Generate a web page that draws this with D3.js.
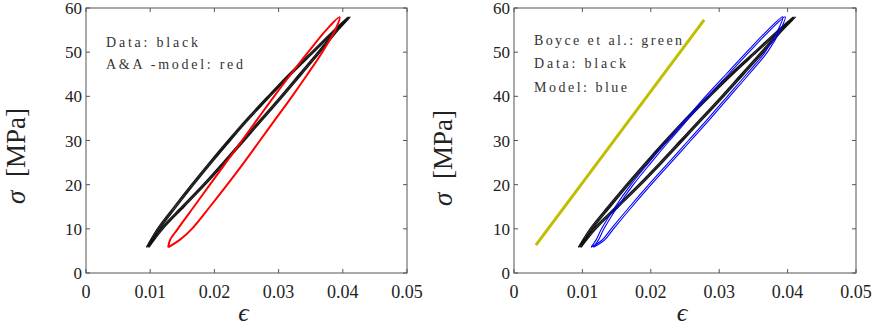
<!doctype html>
<html>
<head>
<meta charset="utf-8">
<style>
  body { margin:0; background:#fff; }
  svg text { font-family:"Liberation Serif", "Times New Roman", Times, "DejaVu Serif", serif; fill:#222; }
</style>
<script src="https://d3js.org/d3.v7.min.js"></script>
</head>
<body>
<script>
// ticks
var xTicks = [0, 0.01, 0.02, 0.03, 0.04, 0.05];
var xTickLabels = ["0", "0.01", "0.02", "0.03", "0.04", "0.05"];
var yTicks = [0, 10, 20, 30, 40, 50, 60];

// measured data (black): stress levels, strain on left / right branch
var blackSigma = [5.8, 10, 15, 20, 25, 30, 35, 40, 45, 50, 55, 58];
var blackLeft  = [0.0094, 0.0111, 0.0137, 0.0164, 0.0192, 0.0221, 0.0251, 0.0283, 0.0316, 0.0351, 0.0386, 0.0407];
var blackRight = [0.0094, 0.0116, 0.0149, 0.0182, 0.0213, 0.0243, 0.0273, 0.0303, 0.0332, 0.0361, 0.0389, 0.0408];
var blackCycles = [0, 0.0002, 0.0004];

// A&A model (red)
var redSigma = [5.8, 7.5, 10, 15, 20, 25, 30, 35, 40, 45, 50, 55, 57.9];
var redLeft  = [0.0128, 0.0131, 0.0143, 0.0168, 0.0193, 0.0218, 0.0243, 0.0268, 0.0293, 0.0319, 0.0346, 0.0374, 0.0395];
var redRight = [0.0128, 0.0146, 0.0165, 0.0193, 0.0220, 0.0246, 0.0271, 0.0296, 0.0321, 0.0345, 0.0368, 0.0388, 0.0395];

// model (blue), two cycles
var blueSigma = [5.8, 7.5, 10, 15, 20, 25, 30, 35, 40, 45, 50, 55, 58];
var blueLeft  = [0.01125, 0.0120, 0.0128, 0.0148, 0.0171, 0.0197, 0.0224, 0.0252, 0.0280, 0.0310, 0.0340, 0.0371, 0.0393];
var blueRight = [0.01125, 0.0129, 0.0142, 0.0169, 0.0197, 0.0226, 0.0255, 0.0284, 0.0312, 0.0340, 0.0367, 0.0386, 0.0393];
var blueCycles = [0, 0.00035];

// Boyce et al. (green)
var greenEps   = [0.0032, 0.0278];
var greenSigma = [6.3, 57.3];

var legendA = ["Data: black", "A&A -model: red"];
var legendB = ["Boyce et al.: green", "Data: black", "Model: blue"];

var svg = d3.select("body").append("svg")
  .attr("width", 877).attr("height", 328);

function loop(sig, left, right, shift) {
  var pts = [];
  for (var i = 0; i < sig.length; i++) pts.push([right[i] + shift, sig[i]]);
  for (var j = sig.length - 2; j >= 0; j--) pts.push([left[j] + shift, sig[j]]);
  return pts;
}

function panel(x0, x1, legend, legendW, legendY, legendStep, labelX, labelY) {
  var x = d3.scaleLinear().domain([0, 0.05]).range([x0, x1]);
  var y = d3.scaleLinear().domain([0, 60]).range([273, 8]);
  var g = svg.append("g");

  var line = d3.line()
    .x(function(d) { return x(d[0]); })
    .y(function(d) { return y(d[1]); })
    .curve(d3.curveCatmullRom.alpha(0.5));

  // axes box with inward ticks
  var ax = g.append("g").attr("stroke", "#555").attr("stroke-width", 1);
  ax.append("rect").attr("x", x0).attr("y", 8).attr("width", x1 - x0).attr("height", 265)
    .attr("fill", "none");
  xTicks.forEach(function(t) {
    ax.append("line").attr("x1", x(t)).attr("x2", x(t)).attr("y1", 273).attr("y2", 269);
    ax.append("line").attr("x1", x(t)).attr("x2", x(t)).attr("y1", 8).attr("y2", 12);
  });
  yTicks.forEach(function(t) {
    ax.append("line").attr("x1", x0).attr("x2", x0 + 4).attr("y1", y(t)).attr("y2", y(t));
    ax.append("line").attr("x1", x1).attr("x2", x1 - 4).attr("y1", y(t)).attr("y2", y(t));
  });

  g.selectAll(".xt").data(xTicks).enter().append("text")
    .attr("x", function(d) { return x(d); }).attr("y", 298)
    .attr("text-anchor", "middle").style("font-size", "18px")
    .text(function(d, i) { return xTickLabels[i]; });
  g.selectAll(".yt").data(yTicks).enter().append("text")
    .attr("x", x0 - 4).attr("y", function(d) { return y(d) + 6; })
    .attr("text-anchor", "end").style("font-size", "17px")
    .text(function(d) { return d; });

  g.append("text").attr("x", (x0 + x1) / 2 - 3).attr("y", 321)
    .attr("text-anchor", "middle").style("font-size", "26px").style("font-style", "italic")
    .text("\u03F5");
  g.append("text")
    .attr("transform", "translate(" + labelX + "," + labelY + ") rotate(-90)")
    .attr("text-anchor", "middle").style("font-size", "27px")
    .html("<tspan font-style='italic'>\u03C3</tspan>\u00A0\u00A0[MPa]");

  legend.forEach(function(s, i) {
    g.append("text").attr("x", x0 + 20).attr("y", legendY + i * legendStep)
      .attr("textLength", legendW[i]).attr("lengthAdjust", "spacing")
      .style("font-size", "14px").style("fill", "#333")
      .text(s);
  });

  return { g: g, line: line };
}

// left panel
var pA = panel(86, 407, legendA, [92, 137], 47, 21.5, 25, 156);
blackCycles.forEach(function(s) {
  pA.g.append("path").attr("d", pA.line(loop(blackSigma, blackLeft, blackRight, s)))
    .attr("fill", "none").attr("stroke", "#111").attr("stroke-width", 1.2);
});
pA.g.append("path").attr("d", pA.line(loop(redSigma, redLeft, redRight, 0)))
  .attr("fill", "none").attr("stroke", "#f00").attr("stroke-width", 2);

// right panel
var pB = panel(514, 856, legendB, [148, 92, 93], 45, 23.3, 452, 158);
pB.g.append("path").attr("d", pB.line(greenEps.map(function(e, i) { return [e, greenSigma[i]]; })))
  .attr("fill", "none").attr("stroke", "#bfbf00").attr("stroke-width", 3);
blackCycles.forEach(function(s) {
  pB.g.append("path").attr("d", pB.line(loop(blackSigma, blackLeft, blackRight, s)))
    .attr("fill", "none").attr("stroke", "#111").attr("stroke-width", 1.2);
});
blueCycles.forEach(function(s) {
  pB.g.append("path").attr("d", pB.line(loop(blueSigma, blueLeft, blueRight, s)))
    .attr("fill", "none").attr("stroke", "#00f").attr("stroke-width", 1.1);
});
</script>
</body>
</html>
